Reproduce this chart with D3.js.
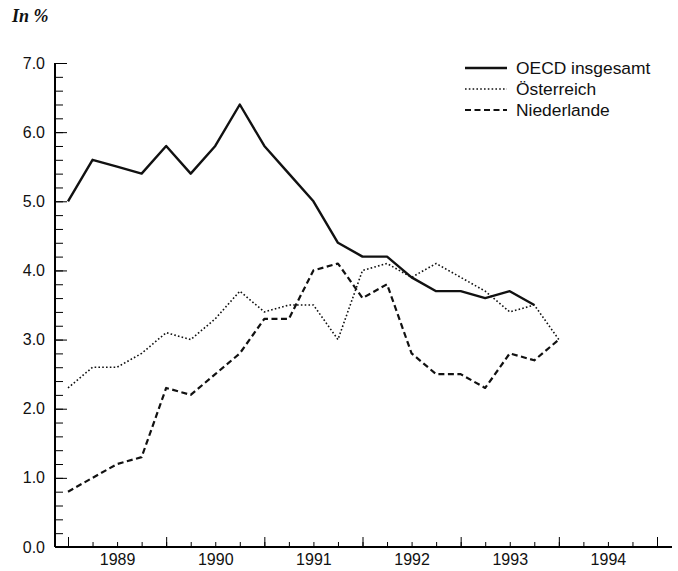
<!DOCTYPE html>
<html>
<head>
<meta charset="utf-8">
<script src="https://cdn.jsdelivr.net/npm/d3@7"></script>
<style>
    body { margin: 0; background: #fff; }
    svg { display: block; }
    text { font-family: "Liberation Sans", Arial, sans-serif; fill: #111; }
</style>
</head>
<body>
<svg id="chart" width="678" height="571"></svg>
<script>
// quarterly observations, first point = start of 1989
const quarters = [
    '1989 Q1', '1989 Q2', '1989 Q3', '1989 Q4',
    '1990 Q1', '1990 Q2', '1990 Q3', '1990 Q4',
    '1991 Q1', '1991 Q2', '1991 Q3', '1991 Q4',
    '1992 Q1', '1992 Q2', '1992 Q3', '1992 Q4',
    '1993 Q1', '1993 Q2', '1993 Q3', '1993 Q4',
    '1994 Q1'
];
const oecd = [ 5.0, 5.6, 5.5, 5.4, 5.8, 5.4, 5.8, 6.4, 5.8, 5.4, 5.0, 4.4, 4.2, 4.2, 3.9, 3.7, 3.7, 3.6, 3.7, 3.5 ];
const oesterreich = [ 2.3, 2.6, 2.6, 2.8, 3.1, 3.0, 3.3, 3.7, 3.4, 3.5, 3.5, 3.0, 4.0, 4.1, 3.9, 4.1, 3.9, 3.7, 3.4, 3.5, 3.0 ];
const niederlande = [ 0.8, 1.0, 1.2, 1.3, 2.3, 2.2, 2.5, 2.8, 3.3, 3.3, 4.0, 4.1, 3.6, 3.8, 2.8, 2.5, 2.5, 2.3, 2.8, 2.7, 3.0 ];
const years = [ 1989, 1990, 1991, 1992, 1993, 1994 ];
const yLabels = [ '0.0', '1.0', '2.0', '3.0', '4.0', '5.0', '6.0', '7.0' ];
const seriesNames = [ 'OECD insgesamt', 'Österreich', 'Niederlande' ];

const svg = d3.select( '#chart' );

const x = d3.scaleLinear().domain( [ 1989, 1995 ] ).range( [ 68, 657 ] ),
      y = d3.scaleLinear().domain( [ 0, 7 ] ).range( [ 547, 63 ] );

const qTime = q => +q.slice( 0, 4 ) + ( +q.slice( 6 ) - 1 ) / 4;

// y axis: minor ticks every 0.2, major with labels every 1.0
svg.append( 'g' )
    .attr( 'transform', 'translate(55,0)' )
    .call( d3.axisLeft( y ).tickValues( d3.range( 0, 35 ).map( i => i / 5 ) ).tickSize( -8 ).tickFormat( '' ) )
    .call( g => g.select( '.domain' ).remove() );

svg.append( 'g' )
    .attr( 'transform', 'translate(55,0)' )
    .call( d3.axisLeft( y ).tickValues( d3.range( 0, 8 ) ).tickSize( -12 ).tickPadding( 10 )
        .tickFormat( d => yLabels[ d ] ) )
    .call( g => g.select( '.domain' ).attr( 'd', 'M0,63V547' ).attr( 'stroke-width', 2 ) )
    .call( g => g.selectAll( 'text' ).attr( 'font-size', 16 ).attr( 'font-family', '"Liberation Sans", Arial' ) );

// x axis: quarter ticks and year boundaries
svg.append( 'g' )
    .attr( 'transform', 'translate(0,547)' )
    .call( d3.axisBottom( x ).tickValues( d3.range( 0, 25 ).map( i => 1989 + i / 4 ) ).tickSize( -5 ).tickFormat( '' ) )
    .call( g => g.select( '.domain' ).remove() );

svg.append( 'g' )
    .attr( 'transform', 'translate(0,547)' )
    .call( d3.axisBottom( x ).tickValues( d3.range( 1989, 1996 ) ).tickSize( -10 ).tickFormat( '' ) )
    .call( g => g.select( '.domain' ).attr( 'd', 'M55,0H672' ).attr( 'stroke-width', 2 ) );

svg.append( 'g' )
    .attr( 'transform', 'translate(0,547)' )
    .call( d3.axisBottom( x ).tickValues( years.map( d => d + 0.5 ) ).tickSize( 0 ).tickPadding( 7 )
        .tickFormat( d => Math.floor( d ) ) )
    .call( g => g.select( '.domain' ).remove() )
    .call( g => g.selectAll( 'text' ).attr( 'font-size', 16 ).attr( 'font-family', '"Liberation Sans", Arial' ) );

// lines
const styles = [
    { width: 2.4, dash: null },
    { width: 1.6, dash: '1.6,2.2' },
    { width: 2.2, dash: '6,3.5' }
];
const line = d3.line()
    .x( ( d, i ) => x( qTime( quarters[ i ] ) ) )
    .y( d => y( d ) );

[ oecd, oesterreich, niederlande ].forEach( ( s, i ) => {
    svg.append( 'path' )
        .attr( 'd', line( s ) )
        .attr( 'fill', 'none' )
        .attr( 'stroke', '#111' )
        .attr( 'stroke-width', styles[ i ].width )
        .attr( 'stroke-dasharray', styles[ i ].dash )
        .attr( 'stroke-linejoin', 'round' );
} );

// legend
const legend = svg.append( 'g' ).attr( 'transform', 'translate(465,68)' );
seriesNames.forEach( ( n, i ) => {
    legend.append( 'line' )
        .attr( 'x1', 0 ).attr( 'x2', 42 )
        .attr( 'y1', i * 21 ).attr( 'y2', i * 21 )
        .attr( 'stroke', '#111' )
        .attr( 'stroke-width', styles[ i ].width )
        .attr( 'stroke-dasharray', styles[ i ].dash );
    legend.append( 'text' )
        .attr( 'x', 51 ).attr( 'y', i * 21 + 6 )
        .attr( 'font-size', 17.4 )
        .text( n );
} );

// unit label
svg.append( 'text' )
    .attr( 'x', 12 ).attr( 'y', 22 )
    .attr( 'font-weight', 'bold' )
    .attr( 'font-style', 'italic' )
    .attr( 'font-size', 18 )
    .style( 'font-family', '"Liberation Serif", "Times New Roman", serif' )
    .text( 'In %' );
</script>
</body>
</html>
